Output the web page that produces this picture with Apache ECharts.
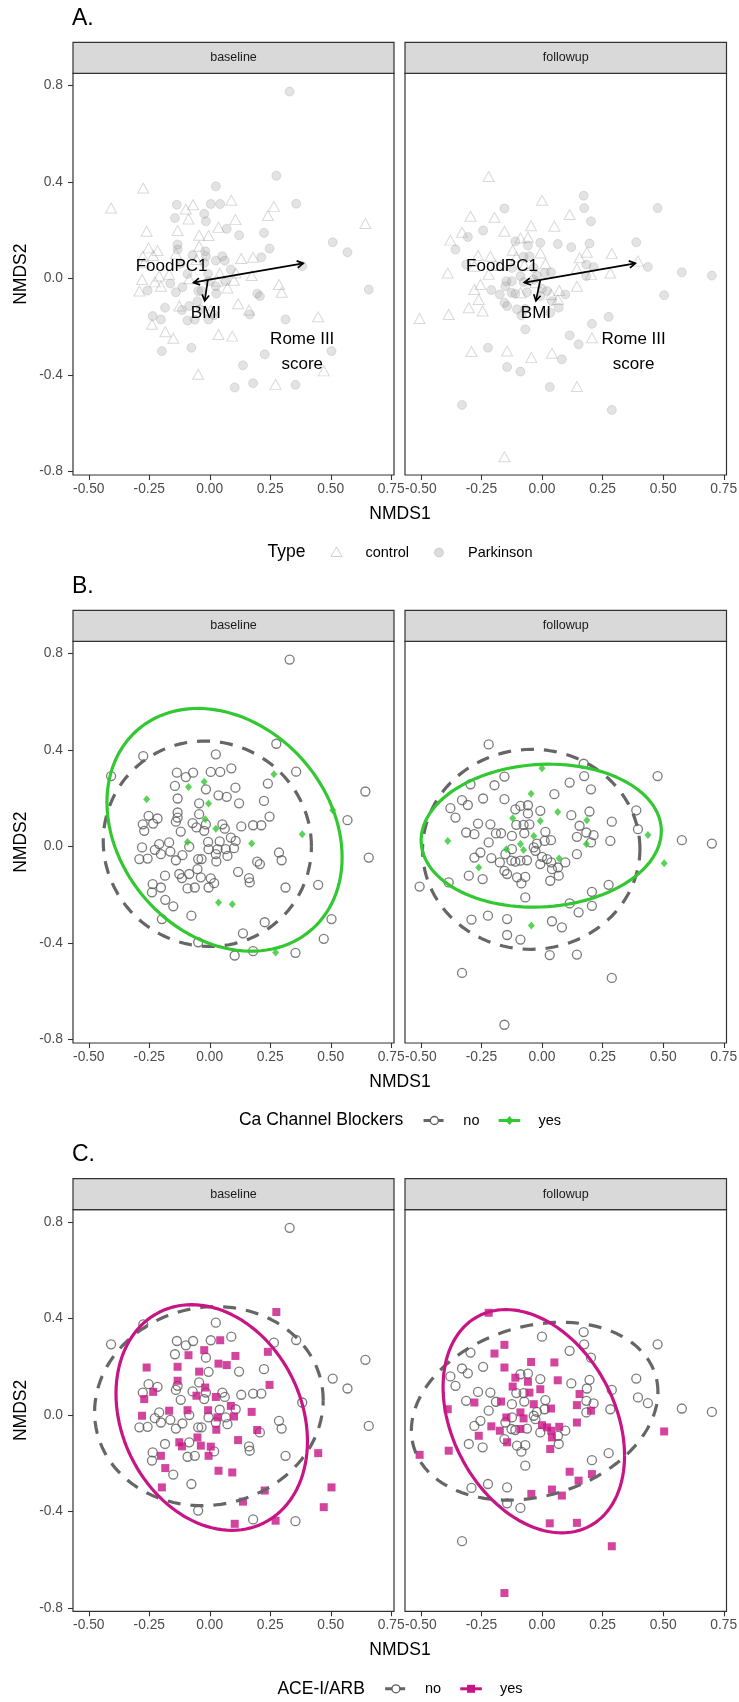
<!DOCTYPE html>
<html><head><meta charset="utf-8">
<script src="https://cdn.jsdelivr.net/npm/echarts@6/dist/echarts.min.js"></script>
<style>html,body{margin:0;padding:0;background:#fff}#c{width:739px;height:1702px}</style>
</head><body><div id="c"></div><script>
const FONT = '"Liberation Sans", Arial, Helvetica, sans-serif';
const facets = ['baseline', 'followup'];
const panelTags = ['A.', 'B.', 'C.'];
const xTicks = [-0.5, -0.25, 0, 0.25, 0.5, 0.75];
const yTicks = [-0.8, -0.4, 0, 0.4, 0.8];
const legendTitles = ['Type', 'Ca Channel Blockers', 'ACE-I/ARB'];
const typeLabels = ['control', 'Parkinson'];
const flagLabels = ['no', 'yes'];

// [NMDS1, NMDS2, type (c = control, p = Parkinson), Ca channel blocker (1 = yes), ACE-I/ARB (1 = yes)]
const baselinePoints = [
[-0.275,0.375,'c',0,0],[0.025,0.382,'p',0,0],[0.275,0.426,'p',0,1],[-0.408,0.292,'c',0,0],
[0.357,0.310,'p',0,0],[0.643,0.228,'c',0,0],[-0.136,0.306,'p',0,0],[-0.099,0.288,'c',0,0],
[-0.069,0.306,'c',0,0],[0.004,0.309,'p',0,0],[0.043,0.309,'p',0,1],[0.089,0.324,'c',0,0],
[-0.144,0.251,'p',0,0],[-0.016,0.237,'p',0,0],[0.106,0.244,'c',0,1],[0.240,0.261,'c',0,1],
[0.036,0.212,'c',0,1],[0.070,0.206,'p',0,1],[-0.133,0.199,'c',0,1],[0.121,0.179,'p',0,0],
[-0.044,0.179,'c',0,1],[0.224,0.189,'p',0,0],[-0.133,0.141,'p',0,1],[-0.133,0.120,'p',0,0],
[-0.044,0.134,'c',0,0],[0.247,0.124,'p',0,1],[-0.253,0.127,'c',0,0],[-0.216,0.116,'c',0,0],
[-0.277,0.092,'c',0,0],[-0.234,0.095,'c',0,1],[-0.271,0.065,'c',0,1],[-0.140,0.103,'c',0,0],
[-0.120,0.062,'p',0,0],[-0.071,0.097,'p',0,0],[-0.023,0.065,'p',0,0],[-0.055,0.079,'c',0,1],
[-0.016,0.092,'p',0,0],[0.052,0.092,'p',0,0],[0.062,0.074,'p',0,0],[0.130,0.083,'c',0,0],
[0.179,0.088,'c',0,0],[0.213,0.088,'p',0,0],[0.569,0.109,'p',0,0],[0.087,0.037,'p',0,1],
[0.107,0.023,'c',0,0],[0.041,0.021,'c',0,0],[-0.007,0.019,'p',0,1],[-0.168,0.017,'c',0,1],
[-0.209,0.010,'c',0,0],[-0.280,-0.004,'c',0,1],[-0.227,-0.014,'c',0,0],[-0.202,-0.032,'c',0,0],
[-0.163,-0.021,'p',0,0],[-0.085,-0.001,'c',0,0],[-0.005,-0.011,'p',0,0],[0.032,-0.011,'c',0,1],
[0.066,-0.011,'p',0,0],[0.100,-0.007,'c',0,1],[0.025,-0.032,'p',0,0],[0.073,-0.039,'c',0,0],
[-0.291,-0.052,'c',0,0],[-0.257,-0.050,'p',0,0],[-0.140,-0.057,'p',0,0],[-0.113,-0.036,'p',0,0],
[-0.048,-0.052,'p',0,0],[-0.034,-0.052,'p',0,0],[0.027,-0.062,'p',0,1],[0.286,-0.025,'c',0,0],
[0.297,-0.057,'c',0,0],[0.196,-0.063,'p',0,1],[0.207,-0.073,'p',0,0],[0.657,-0.046,'p',0,0],
[0.117,-0.105,'c',0,1],[0.162,-0.131,'c',0,0],[0.165,-0.149,'p',0,0],[-0.126,-0.114,'c',0,1],
[-0.115,-0.131,'p',0,1],[-0.085,-0.114,'p',0,0],[-0.051,-0.094,'p',0,1],[-0.037,-0.128,'p',0,1],
[0.004,-0.132,'c',0,1],[0.018,-0.152,'p',0,0],[-0.005,-0.170,'p',0,1],[-0.236,-0.156,'p',0,0],
[-0.202,-0.170,'p',0,1],[-0.239,-0.190,'c',0,0],[-0.185,-0.121,'p',0,0],[-0.092,-0.174,'p',0,0],
[-0.062,-0.170,'p',0,0],[0.313,-0.170,'p',0,0],[0.448,-0.159,'c',0,1],[-0.184,-0.221,'c',0,1],
[-0.151,-0.248,'c',0,0],[-0.076,-0.287,'p',0,0],[-0.198,-0.301,'p',0,1],[0.227,-0.314,'p',0,1],
[0.503,-0.301,'p',0,1],[0.137,-0.360,'p',0,1],[0.471,-0.383,'c',0,1],[-0.048,-0.397,'c',0,0],
[0.103,-0.452,'p',0,1],[0.179,-0.434,'p',0,0],[0.354,-0.441,'p',0,0],[0.330,0.775,'p',0,0],
[-0.261,0.196,'c',1,1],[-0.088,0.247,'c',1,1],[-0.023,0.268,'p',1,1],[-0.005,0.178,'c',1,0],
[0.025,0.074,'p',1,1],[-0.092,0.019,'p',1,1],[0.173,0.012,'c',1,1],[0.382,0.051,'p',1,0],
[0.036,-0.232,'c',1,1],[0.093,-0.239,'c',1,1],[0.265,0.299,'c',1,0],[0.508,0.150,'p',1,0],
[0.272,-0.439,'c',1,1],[-0.019,0.113,'p',1,1]
];

const followupPoints = [
[-0.220,0.423,'c',0,1],[-0.155,0.290,'p',0,1],[-0.196,0.254,'c',0,1],[-0.295,0.258,'c',0,0],
[-0.330,0.192,'c',0,0],[-0.306,0.172,'p',0,0],[-0.243,0.199,'p',0,0],[-0.378,0.159,'c',0,0],
[-0.357,0.120,'p',0,0],[-0.155,0.196,'c',0,1],[-0.110,0.154,'p',0,1],[-0.089,0.168,'c',0,0],
[-0.058,0.171,'c',0,0],[-0.058,0.137,'p',0,1],[-0.007,0.148,'p',0,0],[0.051,0.217,'c',0,1],
[-0.264,0.095,'c',0,0],[-0.213,0.092,'c',0,0],[-0.190,0.054,'c',0,0],[-0.169,0.055,'c',0,1],
[-0.313,0.058,'p',0,0],[-0.279,0.051,'c',0,1],[-0.124,0.044,'p',0,0],[-0.106,0.090,'c',0,0],
[-0.076,0.090,'p',0,0],[-0.052,0.092,'p',0,1],[-0.073,0.055,'c',0,0],[0.014,0.061,'c',0,0],
[0.037,0.026,'p',0,1],[0.011,0.023,'p',0,0],[-0.021,0.012,'p',0,0],[-0.034,-0.004,'p',0,0],
[-0.027,-0.018,'c',0,0],[-0.220,0.017,'c',0,0],[-0.254,-0.025,'c',0,0],[-0.279,-0.046,'c',0,0],
[-0.209,-0.048,'p',0,1],[-0.174,-0.066,'p',0,1],[-0.151,-0.032,'p',0,0],[-0.124,-0.011,'p',0,0],
[-0.126,-0.059,'p',0,0],[-0.110,-0.063,'p',0,0],[-0.089,-0.059,'c',0,1],[-0.062,-0.057,'p',0,0],
[0.000,-0.043,'p',0,1],[0.021,-0.052,'p',0,1],[0.038,-0.066,'c',0,1],[-0.007,-0.073,'p',0,0],
[0.096,-0.066,'p',0,0],[0.041,-0.094,'p',0,1],[0.066,-0.087,'c',0,0],[0.069,-0.121,'p',0,0],
[0.034,-0.142,'p',0,1],[-0.155,-0.101,'p',0,0],[-0.144,-0.114,'p',0,1],[-0.103,-0.128,'p',0,0],
[-0.069,-0.126,'p',0,0],[-0.085,-0.153,'p',0,0],[-0.302,-0.121,'c',0,0],[-0.245,-0.135,'c',0,0],
[-0.385,-0.149,'c',0,1],[-0.505,-0.166,'c',0,1],[-0.069,-0.211,'p',0,0],[-0.291,-0.303,'c',0,0],
[-0.223,-0.287,'p',0,0],[-0.144,-0.301,'c',0,0],[-0.144,-0.367,'p',0,0],[-0.089,-0.386,'p',0,0],
[0.041,-0.310,'c',0,1],[0.082,-0.335,'p',0,1],[0.032,-0.450,'p',0,1],[-0.330,-0.524,'p',0,0],
[-0.155,-0.739,'c',0,1],[0.172,0.343,'p',0,0],[0.174,0.292,'p',0,0],[0.114,0.265,'c',0,0],
[0.202,0.237,'p',0,0],[0.477,0.292,'p',0,0],[0.389,0.150,'p',0,0],[0.196,0.145,'p',0,0],
[0.288,0.103,'c',0,0],[0.121,0.130,'p',0,0],[0.155,0.086,'c',0,1],[0.183,0.058,'p',0,0],
[0.213,0.047,'p',0,0],[0.144,0.040,'c',0,1],[0.282,0.023,'c',0,0],[0.202,0.017,'c',0,1],
[0.396,0.072,'c',0,0],[0.577,0.026,'p',0,0],[0.701,0.012,'p',0,0],[0.144,-0.032,'c',0,1],
[0.275,-0.159,'p',0,0],[0.206,-0.188,'p',0,0],[0.114,-0.236,'p',0,1],[0.151,-0.273,'p',0,1],
[0.206,-0.246,'c',0,1],[0.144,-0.448,'c',0,1],[0.288,-0.545,'p',0,1],
[0.000,0.324,'c',1,0],[-0.045,0.219,'c',1,1],[0.065,0.143,'p',1,1],[-0.121,0.117,'c',1,1],
[-0.007,0.106,'c',1,1],[-0.034,0.044,'p',1,1],[-0.089,0.010,'p',1,1],[-0.076,-0.015,'p',1,1],
[-0.147,-0.011,'p',1,1],[0.071,-0.050,'c',1,1],[-0.261,-0.087,'c',1,1],[-0.389,0.023,'c',1,1],
[-0.044,-0.328,'c',1,1],[0.185,0.109,'c',1,0],[0.183,0.010,'p',1,0],[0.437,0.048,'p',1,0],
[0.504,-0.069,'p',1,1]
];

// envfit vectors (panel A): common origin and tips, label positions
const envfitNames = ['FoodPC1', 'BMI', 'Rome III\nscore'];
const envfitOrigin = [[-0.008, -0.006], [-0.007, -0.006]];
const envfitTips = [
  [[-0.067, -0.017], [-0.021, -0.093], [0.386, 0.063]],
  [[-0.073, -0.017], [-0.025, -0.093], [0.385, 0.063]]
];
const envfitLabelPos = [
  [[-0.158, 0.050], [-0.016, -0.144], [0.382, -0.302]],
  [[-0.165, 0.050], [-0.025, -0.144], [0.378, -0.302]]
];

const facetPoints = [baselinePoints, followupPoints];

// ---------- layout / styles ----------
const GRID_LEFT = [73, 405];
const GRID_W = [321, 321.5];
const ROW_TOP = [73.3, 641.3, 1209.6];
const GRID_H = 401.7;
const STRIP_H = 31;
const GREY_PT = '#5a5a5a';
const GREY_EL = '#666666';
const GREEN = '#32c832';
const MAGENTA = '#c71585';

// ggplot-like 5% expansion of the shared ranges
const allPts = baselinePoints.concat(followupPoints);
function expandRange(vals) {
  const lo = Math.min(...vals), hi = Math.max(...vals), pad = (hi - lo) * 0.05;
  return [lo - pad, hi + pad];
}
const XR = expandRange(allPts.map(p => p[0]));
const YR = expandRange(allPts.map(p => p[1]));

// stat_ellipse(type = "t"): MASS::cov.trob + F-based radius
function ellipse(pts, level, segs) {
  const n = pts.length, p = 2, nu = 5;
  let loc = [pts.reduce((a, q) => a + q[0], 0) / n, pts.reduce((a, q) => a + q[1], 0) / n];
  let w = new Array(n).fill(1);
  let X = null;
  for (let it = 0; it < 25; it++) {
    const w0 = w.slice();
    X = pts.map(q => [q[0] - loc[0], q[1] - loc[1]]);
    const sw = w.reduce((a, b) => a + b, 0);
    let sxx = 0, sxy = 0, syy = 0;
    for (let i = 0; i < n; i++) {
      sxx += w[i] * X[i][0] * X[i][0];
      sxy += w[i] * X[i][0] * X[i][1];
      syy += w[i] * X[i][1] * X[i][1];
    }
    sxx /= sw; sxy /= sw; syy /= sw;
    const det = sxx * syy - sxy * sxy;
    w = X.map(d => {
      const Q = (syy * d[0] * d[0] - 2 * sxy * d[0] * d[1] + sxx * d[1] * d[1]) / det;
      return (nu + p) / (nu + Q);
    });
    const sw2 = w.reduce((a, b) => a + b, 0);
    loc = [0, 0];
    for (let i = 0; i < n; i++) { loc[0] += w[i] * pts[i][0]; loc[1] += w[i] * pts[i][1]; }
    loc[0] /= sw2; loc[1] /= sw2;
    if (w.every((v, i) => Math.abs(v - w0[i]) < 0.01)) break;
  }
  let cxx = 0, cxy = 0, cyy = 0;
  for (let i = 0; i < n; i++) {
    cxx += w[i] * X[i][0] * X[i][0];
    cxy += w[i] * X[i][0] * X[i][1];
    cyy += w[i] * X[i][1] * X[i][1];
  }
  cxx /= n; cxy /= n; cyy /= n;
  const a = Math.sqrt(cxx), b = cxy / a, c = Math.sqrt(Math.max(cyy - b * b, 0));
  const dfd = n - 1;
  const fq = dfd / 2 * (Math.pow(1 - level, -2 / dfd) - 1);
  const r = Math.sqrt(2 * fq);
  const out = [];
  for (let k = 0; k <= segs; k++) {
    const t = k / segs * 2 * Math.PI;
    out.push([loc[0] + r * Math.cos(t) * a, loc[1] + r * (Math.cos(t) * b + Math.sin(t) * c)]);
  }
  return out;
}

const grids = [], xAxes = [], yAxes = [], series = [], graphics = [];
for (let r = 0; r < 3; r++) {
  for (let f = 0; f < 2; f++) {
    const gi = r * 2 + f;
    grids.push({left: GRID_LEFT[f], top: ROW_TOP[r], width: GRID_W[f], height: GRID_H,
      show: true, borderColor: '#333', borderWidth: 1.2, backgroundColor: '#fff',
      containLabel: false, outerBoundsMode: 'none'});
    xAxes.push({gridIndex: gi, type: 'value', min: XR[0], max: XR[1], position: 'bottom',
      axisLine: {show: false, onZero: false}, splitLine: {show: false},
      axisTick: {show: true, customValues: xTicks, length: 5, lineStyle: {color: '#333', width: 1.1}},
      axisLabel: {customValues: xTicks, formatter: v => v.toFixed(2), color: '#4d4d4d',
        fontSize: 13.8, fontFamily: FONT, margin: 7, hideOverlap: false}});
    yAxes.push({gridIndex: gi, type: 'value', min: YR[0], max: YR[1], position: 'left',
      axisLine: {show: false, onZero: false}, splitLine: {show: false},
      axisTick: {show: f === 0, customValues: yTicks, length: 5, lineStyle: {color: '#333', width: 1.1}},
      axisLabel: {show: f === 0, customValues: yTicks, formatter: v => v.toFixed(1), color: '#4d4d4d',
        fontSize: 13.8, fontFamily: FONT, margin: 10}});

    const pts = facetPoints[f];
    const base = {xAxisIndex: gi, yAxisIndex: gi, silent: true, animation: false};
    if (r === 0) {
      series.push(Object.assign({type: 'scatter', name: typeLabels[0], symbol: 'triangle', symbolSize: [11, 10],
        itemStyle: {color: 'rgba(0,0,0,0)', borderColor: 'rgba(150,150,150,0.45)', borderWidth: 1},
        data: pts.filter(p => p[2] === 'c').map(p => [p[0], p[1]]), z: 2}, base));
      series.push(Object.assign({type: 'scatter', name: typeLabels[1], symbol: 'circle', symbolSize: 9,
        itemStyle: {color: 'rgba(140,140,140,0.3)', borderColor: 'rgba(120,120,120,0.3)', borderWidth: 0.8},
        data: pts.filter(p => p[2] === 'p').map(p => [p[0], p[1]]), z: 2}, base));
      const o = envfitOrigin[f];
      series.push(Object.assign({type: 'custom', clip: false, z: 5,
        data: envfitTips[f].map(t => [o[0], o[1], t[0], t[1]]),
        renderItem: (params, api) => {
          const p0 = api.coord([api.value(0), api.value(1)]);
          const p1 = api.coord([api.value(2), api.value(3)]);
          const ang = Math.atan2(p1[1] - p0[1], p1[0] - p0[0]);
          const L = 7, A = Math.PI / 6;
          const h1 = [p1[0] - L * Math.cos(ang - A), p1[1] - L * Math.sin(ang - A)];
          const h2 = [p1[0] - L * Math.cos(ang + A), p1[1] - L * Math.sin(ang + A)];
          return {type: 'group', children: [
            {type: 'line', shape: {x1: p0[0], y1: p0[1], x2: p1[0], y2: p1[1]}, style: {stroke: '#000', lineWidth: 1.7}},
            {type: 'polyline', shape: {points: [h1, p1, h2]}, style: {stroke: '#000', lineWidth: 1.7, fill: null}}
          ]};
        }}, base));
      series.push(Object.assign({type: 'custom', clip: false, z: 6,
        data: envfitLabelPos[f].map((q, i) => [q[0], q[1], i]),
        renderItem: (params, api) => {
          const p = api.coord([api.value(0), api.value(1)]);
          return {type: 'text', x: p[0], y: p[1], style: {text: envfitNames[api.value(2)],
            align: 'center', verticalAlign: 'middle', font: '17px ' + FONT, fill: '#000', lineHeight: 25}};
        }}, base));
    } else {
      const flagIdx = r === 1 ? 3 : 4;
      const yesColor = r === 1 ? GREEN : MAGENTA;
      const noPts = pts.filter(p => p[flagIdx] === 0).map(p => [p[0], p[1]]);
      const yesPts = pts.filter(p => p[flagIdx] === 1).map(p => [p[0], p[1]]);
      series.push(Object.assign({type: 'scatter', name: flagLabels[0], symbol: 'circle', symbolSize: 9,
        itemStyle: {color: 'rgba(0,0,0,0)', borderColor: GREY_PT, borderWidth: 1.3}, data: noPts, z: 2}, base));
      series.push(Object.assign({type: 'scatter', name: flagLabels[1],
        symbol: r === 1 ? 'diamond' : 'rect', symbolSize: r === 1 ? [7, 8] : 8,
        itemStyle: {color: yesColor}, data: yesPts, z: 3}, base));
      series.push(Object.assign({type: 'line', showSymbol: false, symbol: 'none', smooth: false,
        data: ellipse(noPts, 0.95, 120),
        lineStyle: {color: GREY_EL, width: 3.2, type: [13, 10], cap: 'butt'}, z: 4}, base));
      series.push(Object.assign({type: 'line', showSymbol: false, symbol: 'none', smooth: false,
        data: ellipse(yesPts, 0.95, 120),
        lineStyle: {color: yesColor, width: 3.2}, z: 4}, base));
    }

    // facet strip
    graphics.push({type: 'rect', shape: {x: GRID_LEFT[f], y: ROW_TOP[r] - STRIP_H, width: GRID_W[f], height: STRIP_H},
      style: {fill: '#d9d9d9', stroke: '#333', lineWidth: 1.2}});
    graphics.push({type: 'text', x: GRID_LEFT[f] + GRID_W[f] / 2, y: ROW_TOP[r] - STRIP_H / 2,
      style: {text: facets[f], align: 'center', verticalAlign: 'middle', font: '12.5px ' + FONT, fill: '#1a1a1a'}});
  }
  // panel tag
  graphics.push({type: 'text', x: 72, y: ROW_TOP[r] - 55, style: {text: panelTags[r], align: 'left',
    verticalAlign: 'middle', font: '23px ' + FONT, fill: '#000'}});
  // axis titles
  graphics.push({type: 'text', x: 21, y: ROW_TOP[r] + GRID_H / 2, rotation: Math.PI / 2,
    style: {text: 'NMDS2', align: 'center', verticalAlign: 'middle', font: '17.5px ' + FONT, fill: '#000'}});
  graphics.push({type: 'text', x: 400, y: ROW_TOP[r] + GRID_H + 39,
    style: {text: 'NMDS1', align: 'center', verticalAlign: 'middle', font: '17.5px ' + FONT, fill: '#000'}});
}

// ---------- legends ----------
const mctx = document.createElement('canvas').getContext('2d');
function tw(t, size) { mctx.font = size + 'px ' + FONT; return mctx.measureText(t).width; }
function legend(yc, title, items) {
  const KEY = 27, G1 = 17.5, G2 = 15.5, G3 = 16.5;
  let total = tw(title, 17.5) + G1;
  items.forEach((it, i) => { total += KEY + G2 + tw(it.label, 14.5) + (i < items.length - 1 ? G3 : 0); });
  let x = 400 - total / 2;
  graphics.push({type: 'text', x: x, y: yc, style: {text: title, align: 'left', verticalAlign: 'middle',
    font: '17.5px ' + FONT, fill: '#000'}});
  x += tw(title, 17.5) + G1;
  items.forEach((it, i) => {
    it.key(x, x + KEY / 2, yc, KEY);
    x += KEY + G2;
    graphics.push({type: 'text', x: x, y: yc, style: {text: it.label, align: 'left', verticalAlign: 'middle',
      font: '14.5px ' + FONT, fill: '#000'}});
    x += tw(it.label, 14.5) + G3;
  });
}
function lineKey(x0, yc, K, color, dashed) {
  graphics.push({type: 'line', shape: {x1: x0 + K * 0.1, y1: yc, x2: x0 + K * 0.9, y2: yc},
    style: {stroke: color, lineWidth: 3, lineDash: dashed ? [8, 4] : null}});
}
function openCircle(cx, yc) {
  graphics.push({type: 'circle', shape: {cx: cx, cy: yc, r: 4}, style: {fill: '#fff', stroke: GREY_PT, lineWidth: 1.3}});
}
const bottoms = ROW_TOP.map(t => t + GRID_H);
legend(bottoms[0] + 77.5, legendTitles[0], [
  {label: typeLabels[0], key: (x0, cx, yc) => graphics.push({type: 'polygon',
    shape: {points: [[cx, yc - 5.5], [cx + 5.5, yc + 4], [cx - 5.5, yc + 4]]},
    style: {fill: null, stroke: 'rgba(150,150,150,0.45)', lineWidth: 1}})},
  {label: typeLabels[1], key: (x0, cx, yc) => graphics.push({type: 'circle', shape: {cx: cx, cy: yc, r: 4.5},
    style: {fill: 'rgba(140,140,140,0.3)', stroke: 'rgba(120,120,120,0.3)', lineWidth: 0.8}})}
]);
legend(bottoms[1] + 77.5, legendTitles[1], [
  {label: flagLabels[0], key: (x0, cx, yc, K) => { lineKey(x0, yc, K, GREY_EL, true); openCircle(cx, yc); }},
  {label: flagLabels[1], key: (x0, cx, yc, K) => { lineKey(x0, yc, K, GREEN, false);
    graphics.push({type: 'polygon', shape: {points: [[cx, yc - 4.5], [cx + 3.8, yc], [cx, yc + 4.5], [cx - 3.8, yc]]},
      style: {fill: GREEN}}); }}
]);
legend(bottoms[2] + 77.5, legendTitles[2], [
  {label: flagLabels[0], key: (x0, cx, yc, K) => { lineKey(x0, yc, K, GREY_EL, true); openCircle(cx, yc); }},
  {label: flagLabels[1], key: (x0, cx, yc, K) => { lineKey(x0, yc, K, MAGENTA, false);
    graphics.push({type: 'rect', shape: {x: cx - 4, y: yc - 4, width: 8, height: 8}, style: {fill: MAGENTA}}); }}
]);

const chart = echarts.init(document.getElementById('c'), null, {renderer: 'canvas'});
chart.setOption({
  animation: false,
  backgroundColor: '#fff',
  grid: grids, xAxis: xAxes, yAxis: yAxes, series: series,
  graphic: {elements: graphics}
});
</script></body></html>
